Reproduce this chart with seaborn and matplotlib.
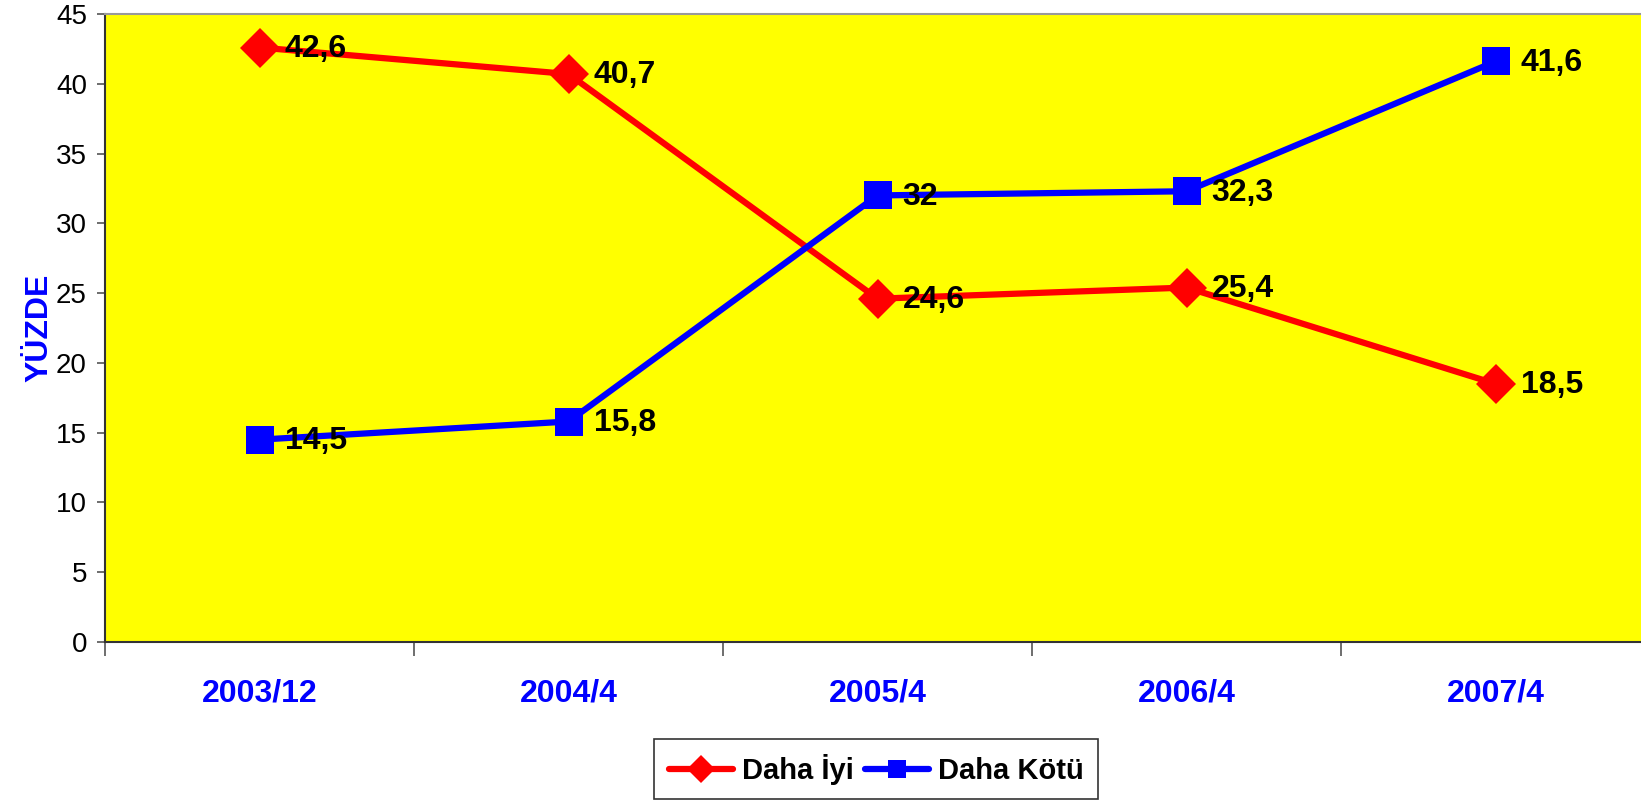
import pandas as pd
import matplotlib.pyplot as plt
import seaborn as sns
from matplotlib.ticker import FixedLocator
from matplotlib.lines import Line2D

# veriler
donemler = ['2003/12', '2004/4', '2005/4', '2006/4', '2007/4']
daha_iyi = [42.6, 40.7, 24.6, 25.4, 18.5]
daha_kotu = [14.5, 15.8, 32, 32.3, 41.6]
y_ticks = [0, 5, 10, 15, 20, 25, 30, 35, 40, 45]

sns.set_style('white')
plt.rcParams['font.family'] = ['Liberation Sans', 'DejaVu Sans']
plt.rcParams['text.color'] = 'black'
plt.rcParams['ytick.labelcolor'] = 'black'

df = pd.DataFrame({
    'donem': donemler * 2,
    'deger': daha_iyi + daha_kotu,
    'seri': ['Daha İyi'] * len(donemler) + ['Daha Kötü'] * len(donemler),
})

fig = plt.figure(figsize=(16.41, 8.01), dpi=100)
ax = fig.add_axes([0.064, 0.1985, 0.9415, 0.784])
ax.set_facecolor('#ffff00')

sns.lineplot(data=df, x='donem', y='deger', hue='seri', style='seri',
             palette={'Daha İyi': '#ff0000', 'Daha Kötü': '#0000ff'},
             markers={'Daha İyi': 'D', 'Daha Kötü': 's'}, dashes=False,
             linewidth=4.5, markersize=20, markeredgewidth=0, ax=ax, legend=False)

# değer etiketleri
def fmt(v):
    return f'{v:g}'.replace('.', ',')

for seri in (daha_iyi, daha_kotu):
    for i, v in enumerate(seri):
        ax.annotate(fmt(v), (i, v), xytext=(18, -1), textcoords='offset points',
                    ha='left', va='center', fontsize=23, fontweight='bold', color='black')

ax.set_xlim(-0.5, 4.5)
ax.set_ylim(0, 45)
ax.yaxis.set_major_locator(FixedLocator(y_ticks))
ax.tick_params(axis='y', which='major', left=True, length=6, width=1.2, color='#555555',
               labelsize=20, pad=7, labelcolor='black')
ax.set_xticks(range(len(donemler)))
ax.set_xticklabels(donemler, fontsize=23, fontweight='bold', color='#0000ff')
ax.tick_params(axis='x', which='major', bottom=False, length=0, pad=26)
ax.set_xticks([i - 0.5 for i in range(len(donemler) + 1)], minor=True)
ax.tick_params(axis='x', which='minor', bottom=True, length=10, width=1.2, color='#555555')

ax.set_xlabel('')
ax.set_ylabel('YÜZDE', fontsize=23, fontweight='bold', color='#0000ff')
ax.yaxis.set_label_coords(-0.033, 0.5)

for side in ('left', 'bottom'):
    ax.spines[side].set_color('#333333')
    ax.spines[side].set_linewidth(1.5)
ax.spines['top'].set_color('#999999')
ax.spines['top'].set_linewidth(1.5)
ax.spines['right'].set_visible(False)

# lejant
handles = [
    Line2D([], [], color='#ff0000', lw=4.5, marker='D', markersize=14, markeredgewidth=0),
    Line2D([], [], color='#0000ff', lw=4.5, marker='s', markersize=13, markeredgewidth=0),
]
leg = fig.legend(handles, ['Daha İyi', 'Daha Kötü'], loc='lower center',
                 bbox_to_anchor=(0.534, 0.002), ncol=2, frameon=True, fancybox=False,
                 edgecolor='black', handlelength=2.2, handletextpad=0.3,
                 columnspacing=0.4, borderpad=0.5, borderaxespad=0,
                 labelcolor='black', prop={'weight': 'bold', 'size': 21})
leg.get_frame().set_linewidth(1.2)

fig.savefig('out.png', dpi=100)
